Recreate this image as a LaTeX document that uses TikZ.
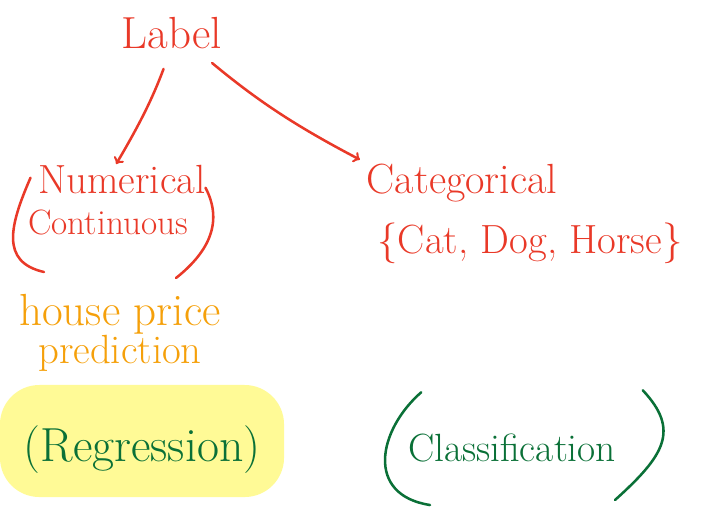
\documentclass[tikz,border=0pt]{standalone}
\usepackage{fontspec}
\usepackage{xcolor}
\usetikzlibrary{positioning,calc}
\definecolor{inkred}{RGB}{233,57,40}
\definecolor{inkorange}{RGB}{245,160,10}
\definecolor{inkgreen}{RGB}{10,112,55}
\definecolor{hilite}{RGB}{255,250,150}
\tikzset{
	redtxt/.style = {text=inkred, inner sep=1pt, font=\fontsize{28}{30}\selectfont},
	orangetxt/.style = {text=inkorange, inner sep=1pt, font=\fontsize{28}{30}\selectfont},
	greentxt/.style = {text=inkgreen, inner sep=1pt, font=\fontsize{30}{34}\selectfont},
	redline/.style = {draw=inkred, line width=1.8pt, line cap=round},
	greenline/.style = {draw=inkgreen, line width=1.8pt, line cap=round},
	marker/.style = {fill=hilite, rounded corners=28pt, minimum width=7.1cm, minimum height=2.8cm}
}

\begin{document}
\begin{tikzpicture}[x=0.025cm, y=-0.025cm]
	\useasboundingbox (0,0) rectangle (702,516);
	
	\node [redtxt, font=\fontsize{32}{34}\selectfont] (label) at (172,33) {Label};
	\node [redtxt, font=\fontsize{29}{32}\selectfont] (num) at (122,180) {Numerical};
	\node [redtxt, font=\fontsize{25}{28}\selectfont] (cont) at (108,222) {Continuous};
	\node [redtxt, font=\fontsize{30}{32}\selectfont] (cat) at (462,183) {Categorical};
	\node [redtxt, font=\fontsize{29}{32}\selectfont] (vals) at (530,243) {\{Cat, Dog, Horse\}};
	
	\draw [redline, ->, shorten <=14pt] (label.-95) to[bend left=5] (num.110);
	\draw [redline, ->, shorten <=14pt, shorten >=4pt] (label.-35) to[bend right=6] (cat.north west);
	
	% brackets round continuous
	\draw [redline] (cont.north west) ++(4,-30) .. controls (10,225) and (0,262) .. (44,272);
	\draw [redline] (cont.north east) ++(16,-20) .. controls (225,225) and (205,255) .. (176,278);
	
	\node [orangetxt, font=\fontsize{32}{34}\selectfont] (house) at (120,314) {house price};
	\node [orangetxt, font=\fontsize{29}{32}\selectfont] (pred) at (120,353) {prediction};
	
	\node [marker] (mark) at (142,441) {};
	\node [greentxt, font=\fontsize{34}{38}\selectfont] (regr) at (142,450) {(Regression)};
	
	\node [greentxt, font=\fontsize{28}{32}\selectfont] (clas) at (512,448) {Classification};
	\draw [greenline] (clas.north west) ++(15,-40) .. controls (378,430) and (365,495) .. (430,505);
	\draw [greenline] (clas.north east) ++(25,-42) .. controls (680,430) and (665,455) .. (615,500);
\end{tikzpicture}
\end{document}
